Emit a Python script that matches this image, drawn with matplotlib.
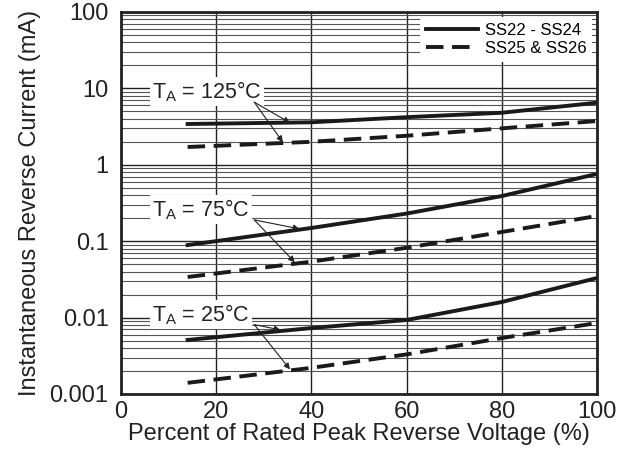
import numpy as np
import matplotlib
matplotlib.use("Agg")
import matplotlib.pyplot as plt

plt.rcParams['font.family'] = ['Liberation Sans', 'DejaVu Sans']
plt.rcParams['mathtext.fontset'] = 'custom'
plt.rcParams['mathtext.rm'] = 'Liberation Sans'

# percent of rated peak reverse voltage
volt = [14, 40, 60, 80, 100]

# reverse current (mA), solid = SS22-SS24, dashed = SS25 & SS26
ss24_125 = [3.42, 3.6, 4.2, 4.8, 6.5]
ss26_125 = [1.71, 2.0, 2.4, 3.0, 3.74]
ss24_75 = [0.089, 0.149, 0.23, 0.39, 0.76]
ss26_75 = [0.034, 0.054, 0.082, 0.132, 0.214]
ss24_25 = [0.0051, 0.0073, 0.0093, 0.016, 0.033]
ss26_25 = [0.0014, 0.0022, 0.0033, 0.0054, 0.0085]

temps = ["125", "75", "25"]
yticks = [0.001, 0.01, 0.1, 1, 10, 100]
ylabels = ["0.001", "0.01", "0.1", "1", "10", "100"]

fig = plt.figure(figsize=(6.28, 4.65), dpi=100)
ax = fig.add_axes([121/628, 1-394/465, 476/628, 382/465])

ax.set_yscale("log")
ax.set_xlim(0, 100)
ax.set_ylim(0.001, 100)

ax.set_xticks([0, 20, 40, 60, 80, 100])
ax.set_yticks(yticks)
ax.set_yticklabels(ylabels)
ax.yaxis.set_minor_locator(matplotlib.ticker.LogLocator(base=10, subs=np.arange(2, 10)))
ax.yaxis.set_minor_formatter(matplotlib.ticker.NullFormatter())
ax.tick_params(which="both", length=0, labelsize=17, colors="#222222")
ax.tick_params(axis="x", pad=5)
ax.tick_params(axis="y", pad=9)

ax.grid(True, which="major", axis="both", color="#222222", lw=1.0)
ax.grid(True, which="minor", axis="y", color="#555555", lw=0.8)
for s in ax.spines.values():
    s.set_linewidth(2)
    s.set_color("#222222")

dash = (0, (4.5, 2.2))
l1, = ax.plot(volt, ss24_125, color="#1a1a1a", lw=2.8, label="SS22 - SS24")
l2, = ax.plot(volt, ss26_125, color="#1a1a1a", lw=2.8, ls=dash, label="SS25 & SS26")
ax.plot(volt, ss24_75, color="#1a1a1a", lw=2.8)
ax.plot(volt, ss26_75, color="#1a1a1a", lw=2.8, ls=dash)
ax.plot(volt, ss24_25, color="#1a1a1a", lw=2.8)
ax.plot(volt, ss26_25, color="#1a1a1a", lw=2.8, ls=dash)

# labels with arrows: (text pos, arrow start, solid tip, dashed tip)
notes = [
    (6.5, 9.0, 28.0, 6.6, 35.5, 3.55, 34.0, 1.98),
    (6.5, 0.26, 28.0, 0.19, 37.5, 0.145, 36.5, 0.053),
    (6.5, 0.011, 28.0, 0.0081, 33.5, 0.0069, 35.5, 0.0021),
]
for t, (tx, ty, ax0, ay0, sx, sy, dx, dy) in zip(temps, notes):
    ax.text(tx, ty, r"T$_\mathregular{A}$ = " + t + "°C", fontsize=15.5, va="center", ha="left",
            color="#222222", bbox=dict(facecolor="white", edgecolor="none", pad=1.5), zorder=5)
    for px, py in [(sx, sy), (dx, dy)]:
        ax.annotate("", xy=(px, py), xytext=(ax0, ay0),
                    arrowprops=dict(arrowstyle="-|>", color="#222222", lw=0.8,
                                    mutation_scale=9, shrinkA=0, shrinkB=0), zorder=6)

leg = ax.legend(loc="upper right", frameon=True, fontsize=12, handlelength=3.1,
                borderaxespad=0.3, borderpad=0.35, labelspacing=0.2, handletextpad=0.4)
leg.get_frame().set_edgecolor("none")
leg.get_frame().set_facecolor("white")
leg.get_frame().set_alpha(1)
leg.get_frame().set_boxstyle("square", pad=0)

ax.set_xlabel("Percent of Rated Peak Reverse Voltage (%)", fontsize=17, color="#222222", labelpad=0)
ax.set_ylabel("Instantaneous Reverse Current (mA)", fontsize=17, color="#222222", labelpad=6)

fig.savefig("out.png", dpi=100)
